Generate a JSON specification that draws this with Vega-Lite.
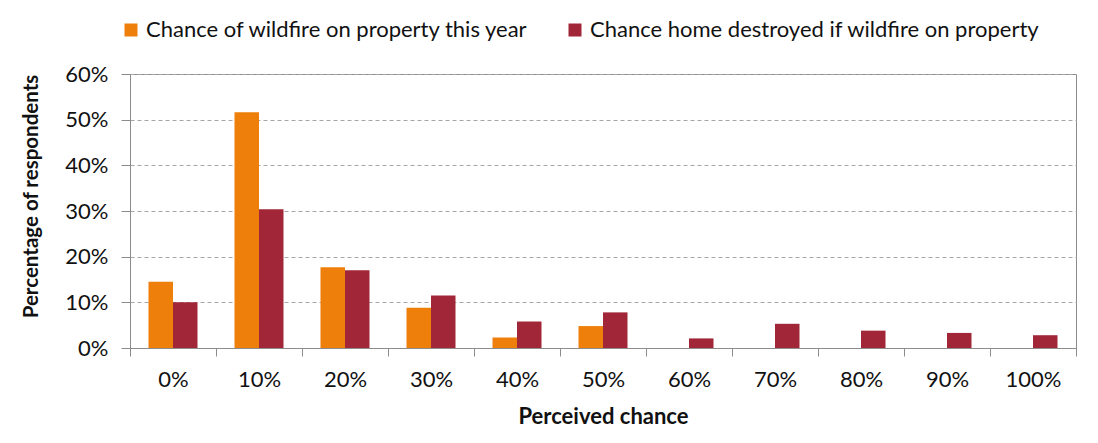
{
  "$schema": "https://vega.github.io/schema/vega-lite/v6.json",
  "width": 946,
  "height": 274,
  "autosize": {"type": "none"},
  "padding": {"left": 130, "top": 74, "right": 22, "bottom": 95},
  "background": "white",
  "data": {
    "values": [
      {"chance": "0%", "series": "Chance of wildfire on property this year", "pct": 14.5},
      {"chance": "0%", "series": "Chance home destroyed if wildfire on property", "pct": 10.0},
      {"chance": "10%", "series": "Chance of wildfire on property this year", "pct": 51.6},
      {"chance": "10%", "series": "Chance home destroyed if wildfire on property", "pct": 30.4},
      {"chance": "20%", "series": "Chance of wildfire on property this year", "pct": 17.7},
      {"chance": "20%", "series": "Chance home destroyed if wildfire on property", "pct": 17.0},
      {"chance": "30%", "series": "Chance of wildfire on property this year", "pct": 8.8},
      {"chance": "30%", "series": "Chance home destroyed if wildfire on property", "pct": 11.5},
      {"chance": "40%", "series": "Chance of wildfire on property this year", "pct": 2.3},
      {"chance": "40%", "series": "Chance home destroyed if wildfire on property", "pct": 5.8},
      {"chance": "50%", "series": "Chance of wildfire on property this year", "pct": 4.8},
      {"chance": "50%", "series": "Chance home destroyed if wildfire on property", "pct": 7.8},
      {"chance": "60%", "series": "Chance home destroyed if wildfire on property", "pct": 2.1},
      {"chance": "70%", "series": "Chance home destroyed if wildfire on property", "pct": 5.3},
      {"chance": "80%", "series": "Chance home destroyed if wildfire on property", "pct": 3.8},
      {"chance": "90%", "series": "Chance home destroyed if wildfire on property", "pct": 3.3},
      {"chance": "100%", "series": "Chance home destroyed if wildfire on property", "pct": 2.8}
    ]
  },
  "mark": {"type": "bar"},
  "encoding": {
    "x": {
      "field": "chance",
      "type": "nominal",
      "sort": ["0%", "10%", "20%", "30%", "40%", "50%", "60%", "70%", "80%", "90%", "100%"],
      "scale": {"paddingInner": 0, "paddingOuter": 0},
      "title": "Perceived chance",
      "axis": {
        "labelAngle": 0,
        "tickBand": "extent",
        "tickSize": 8,
        "labelPadding": 13,
        "titleY": 75,
        "titleBaseline": "alphabetic"
      }
    },
    "xOffset": {
      "field": "series",
      "type": "nominal",
      "sort": ["Chance of wildfire on property this year", "Chance home destroyed if wildfire on property"],
      "scale": {"paddingInner": 0, "paddingOuter": 0.755}
    },
    "y": {
      "field": "pct",
      "type": "quantitative",
      "scale": {"domain": [0, 60]},
      "title": "Percentage of respondents",
      "axis": {
        "values": [0, 10, 20, 30, 40, 50, 60],
        "labelExpr": "datum.value + '%'",
        "grid": true,
        "gridDash": [4, 3],
        "gridColor": "#a6a6a6",
        "tickSize": 9,
        "labelPadding": 13,
        "titleFontSize": 20.5,
        "titleX": -93,
        "titleY": 122,
        "titleAlign": "center",
        "titleBaseline": "alphabetic"
      }
    },
    "color": {
      "field": "series",
      "type": "nominal",
      "scale": {
        "domain": ["Chance of wildfire on property this year", "Chance home destroyed if wildfire on property"],
        "range": ["#EE7F0B", "#A12638"]
      },
      "legend": {
        "title": null,
        "orient": "none",
        "direction": "horizontal",
        "legendX": -10,
        "legendY": -55,
        "symbolType": "square",
        "symbolSize": 169,
        "symbolStrokeWidth": 0,
        "labelFontSize": 22,
        "labelColor": "#111111",
        "labelOffset": 4,
        "columnPadding": 35,
        "labelLimit": 700
      }
    }
  },
  "config": {
    "font": "Lato",
    "view": {"stroke": "#8c8c8c", "strokeWidth": 1},
    "axis": {
      "domainColor": "#8c8c8c",
      "tickColor": "#8c8c8c",
      "labelFontSize": 22,
      "labelColor": "#111111",
      "titleFontSize": 22,
      "titleFontWeight": "bold",
      "titleColor": "#111111"
    },
    "axisX": {"grid": false}
  }
}
